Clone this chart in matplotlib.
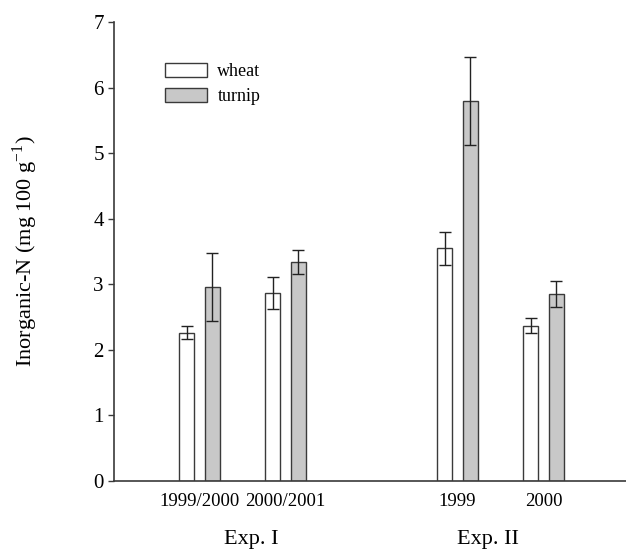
import numpy as np
import matplotlib
matplotlib.use('Agg')
import matplotlib.pyplot as plt

plt.rcParams['font.family'] = ['Liberation Serif', 'DejaVu Serif']
plt.rcParams['mathtext.fontset'] = 'custom'
plt.rcParams['mathtext.rm'] = 'Liberation Serif'

# data
seasons = ['1999/2000', '2000/2001', '1999', '2000']
season_pos = [1, 2, 4, 5]
wheat = [2.26, 2.87, 3.55, 2.37]
wheat_err = [0.10, 0.24, 0.25, 0.11]
turnip = [2.96, 3.34, 5.80, 2.85]
turnip_err = [0.52, 0.18, 0.67, 0.20]
experiments = ['Exp. I', 'Exp. II']
exp_pos = [1.6, 4.35]

edge = '#3a3a3a'
w = 0.18
off = 0.151
x = np.array(season_pos)

fig = plt.figure(figsize=(6.26, 5.49), dpi=100)
ax = fig.add_axes([113.5/626, 1 - 481/549, 1 - 113.5/626, (481 - 22)/549])

ax.bar(x - off, wheat, w, color='white', edgecolor=edge, lw=1.0, label='wheat', zorder=2)
ax.bar(x + off, turnip, w, color='#c8c8c8', edgecolor=edge, lw=1.0, label='turnip', zorder=2)
ax.errorbar(x - off, wheat, yerr=wheat_err, fmt='none', ecolor='#222222', elinewidth=1.0,
            capsize=4, capthick=1.0, zorder=3)
ax.errorbar(x + off, turnip, yerr=turnip_err, fmt='none', ecolor='#222222', elinewidth=1.0,
            capsize=4, capthick=1.0, zorder=3)

ax.set_xlim(0, (626 - 113.5) / 86)
ax.set_ylim(0, 7)
ax.set_yticks(range(8))
ax.set_xticks(season_pos)
ax.set_xticklabels(seasons)
ax.tick_params(axis='x', length=0, pad=8.5, labelsize=13.5)
ax.tick_params(axis='y', length=4.5, width=1.0, pad=2.5, labelsize=15, color=edge)
for s in ['top', 'right']:
    ax.spines[s].set_visible(False)
for s in ['left', 'bottom']:
    ax.spines[s].set_color(edge)
    ax.spines[s].set_linewidth(1.2)

ax.set_ylabel(r'Inorganic-N (mg 100 g$^{\mathrm{-1}}$)', fontsize=16)
ax.yaxis.set_label_coords(-(113.5 - 40) / (626 - 113.5), 0.5)

for ex, xp in zip(experiments, exp_pos):
    ax.text(xp, -0.1285, ex, transform=ax.get_xaxis_transform(), ha='center', va='center',
            fontsize=16)

ax.legend(loc='upper left', bbox_to_anchor=((165 - 113.5) / 512.5, (481 - 63) / 459),
          frameon=False, fontsize=13, handlelength=2.3, handleheight=0.78,
          handletextpad=0.6, labelspacing=0.45, borderpad=0, borderaxespad=0)

fig.savefig('out.png', dpi=100)
